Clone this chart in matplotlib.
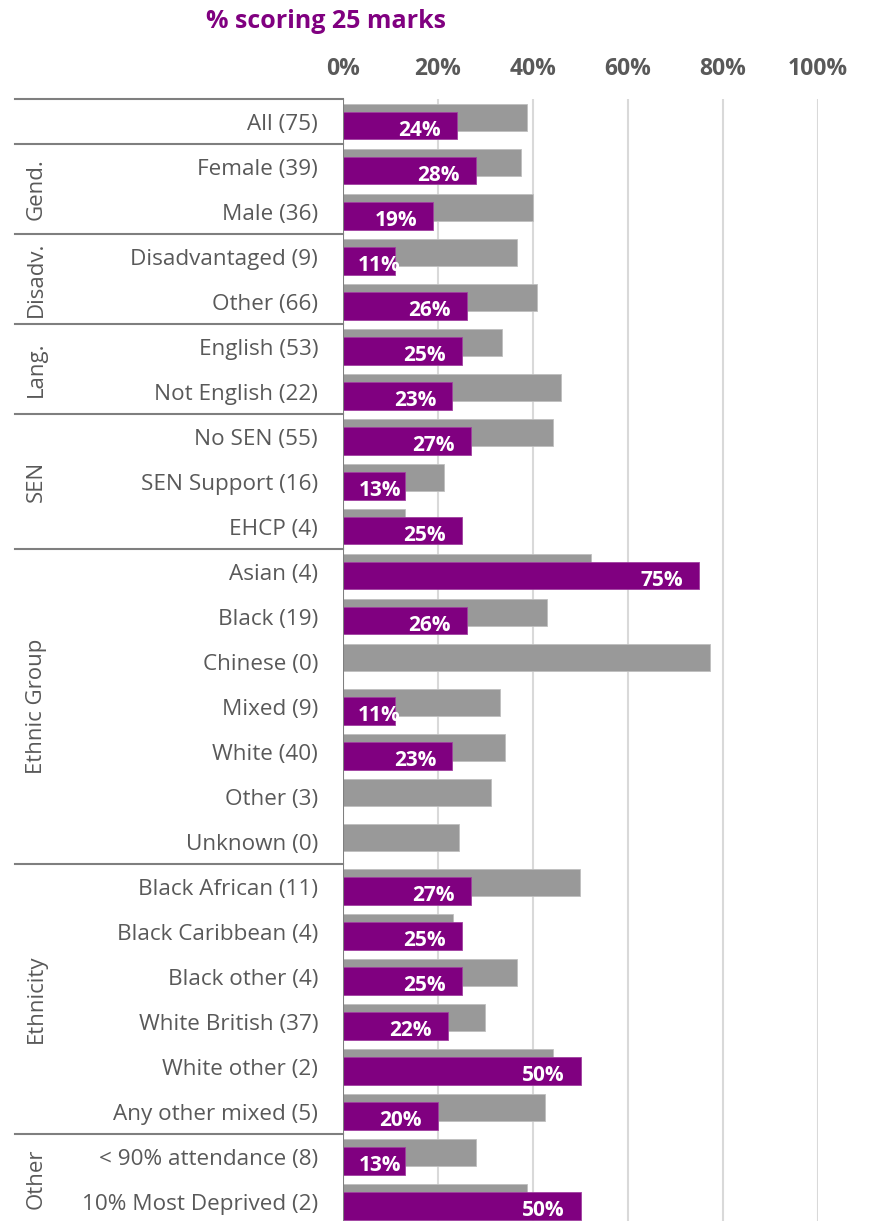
import numpy as np
import matplotlib
matplotlib.use('Agg')
import matplotlib.pyplot as plt
import matplotlib.transforms as mtransforms

plt.rcParams['font.family'] = ['Open Sans', 'DejaVu Sans']

# row labels, top to bottom
categories = ['All (75)', 'Female (39)', 'Male (36)', 'Disadvantaged (9)', 'Other (66)',
              'English (53)', 'Not English (22)', 'No SEN (55)', 'SEN Support (16)', 'EHCP (4)',
              'Asian (4)', 'Black (19)', 'Chinese (0)', 'Mixed (9)', 'White (40)', 'Other (3)',
              'Unknown (0)', 'Black African (11)', 'Black Caribbean (4)', 'Black other (4)',
              'White British (37)', 'White other (2)', 'Any other mixed (5)',
              '< 90% attendance (8)', '10% Most Deprived (2)']

# % scoring 25 marks (school), None where no pupils scored
school_pct = [24, 28, 19, 11, 26, 25, 23, 27, 13, 25, 75, 26, None, 11, 23, None, None,
              27, 25, 25, 22, 50, 20, 13, 50]

# comparison figures (grey)
comparison_pct = [38.8, 37.5, 40.0, 36.6, 40.8, 33.5, 45.9, 44.2, 21.3, 13.0, 52.2, 43.0,
                  77.3, 33.1, 34.2, 31.2, 24.4, 49.9, 23.2, 36.6, 29.9, 44.2, 42.5,
                  27.9, 38.7]

groups = ['', 'Gend.', 'Disadv.', 'Lang.', 'SEN', 'Ethnic Group', 'Ethnicity', 'Other']
group_sizes = [1, 2, 2, 2, 3, 7, 6, 2]

xticks = [0, 20, 40, 60, 80, 100]

PURPLE = '#800080'
GREY = '#999999'
TEXT = '#595959'
LINE = '#7f7f7f'

W, H = 872, 1221
fig = plt.figure(figsize=(W / 100, H / 100), dpi=100)
ax = fig.add_axes([343 / W, (H - 1224) / H, 475 / W, 1125 / H])

n = len(categories)
y = np.arange(n)
ax.set_xlim(0, 100)
ax.set_ylim(n - 0.5, -0.5)

ax.barh(y - 0.09, comparison_pct, height=0.62, color=GREY, edgecolor='#bfbfbf',
        linewidth=0.6, zorder=2)
school_vals = [np.nan if v is None else v for v in school_pct]
ax.barh(y + 0.09, school_vals, height=0.62, color=PURPLE, edgecolor='#a040a0',
        linewidth=0.6, zorder=3)

# value labels inside the purple bars
for yi, v in zip(y, school_pct):
    if v is None:
        continue
    xe = max(v - 3.4, 12.2)
    ax.text(xe, yi + 0.19, f'{v}%', ha='right', va='center', color='white',
            fontsize=15, fontweight='bold', zorder=4)

# gridlines and axis
for t in xticks[1:]:
    ax.axvline(t, color='#d9d9d9', linewidth=1.5, zorder=1)
ax.axvline(0, color=LINE, linewidth=1.5, zorder=5)
for s in ax.spines.values():
    s.set_visible(False)
ax.set_yticks([])
ax.xaxis.tick_top()
ax.set_xticks(xticks)
ax.set_xticklabels([f'{t}%' for t in xticks], fontsize=16.5, fontweight='bold', color=TEXT)
ax.tick_params(axis='x', length=0, pad=13)

# category labels and group brackets on the left
trans = mtransforms.blended_transform_factory(ax.transAxes, ax.transData)
for yi, lab in zip(y, categories):
    ax.text(-25 / 475, yi + 0.07, lab, transform=trans, ha='right', va='center',
            fontsize=16.2, color=TEXT)

x_left = (15 - 343) / 475
x_grp = (36 - 343) / 475
start = 0
bounds = [-0.5]
for g, sz in zip(groups, group_sizes):
    end = start + sz
    bounds.append(end - 0.5)
    if g:
        ax.text(x_grp, (start + end - 1) / 2, g, transform=trans, rotation=90,
                ha='center', va='center', fontsize=16, color=TEXT)
    start = end
for b in bounds:
    ax.plot([x_left, 0], [b, b], transform=trans, color=LINE, linewidth=1.5,
            clip_on=False, zorder=5)

fig.text(326 / W, 1 - 21 / H, '% scoring 25 marks', ha='center', va='center',
         fontsize=18, fontweight='bold', color=PURPLE)

fig.savefig('out.png', dpi=100)
